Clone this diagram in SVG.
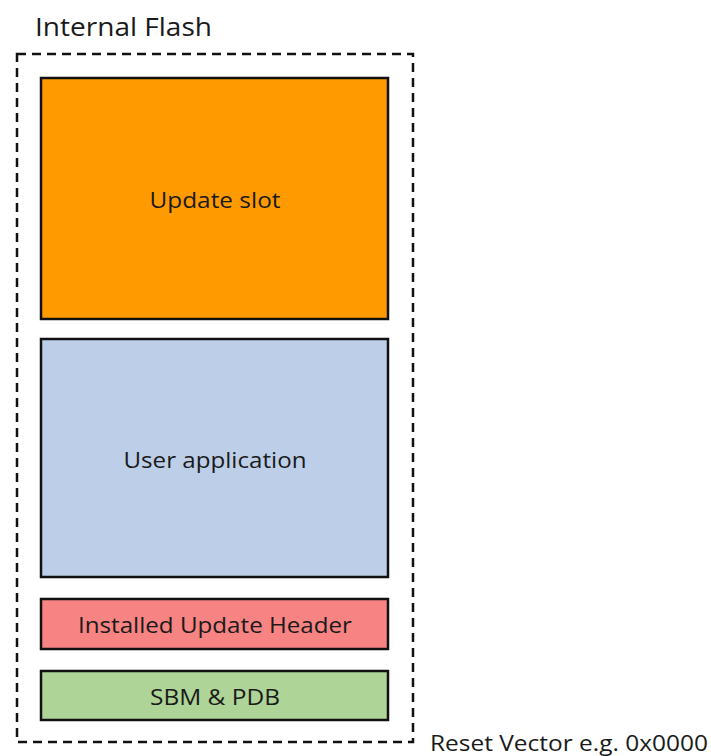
<svg xmlns="http://www.w3.org/2000/svg" width="711" height="756" viewBox="0 0 711 756">
  <style>
    .lbl { font-family: "Open Sans", "Liberation Sans", sans-serif; fill: #1a1a1a; }
    .region { stroke: #111; stroke-width: 2.5; }
    .mid { text-anchor: middle; font-size: 22.5px; }
  </style>
  <rect width="711" height="756" fill="#ffffff"/>

  <!-- flash boundary -->
  <g id="flash">
    <rect x="17" y="54" width="396" height="688" fill="none" stroke="#111" stroke-width="2.5" stroke-dasharray="9 6"/>
    <text class="lbl" x="35" y="36" font-size="25" textLength="177" lengthAdjust="spacingAndGlyphs">Internal Flash</text>
  </g>

  <g id="update-slot">
    <rect class="region" x="41" y="78" width="347" height="241" fill="#FF9A00"/>
    <text class="lbl mid" x="215" y="208" textLength="131" lengthAdjust="spacingAndGlyphs">Update slot</text>
  </g>

  <g id="user-app">
    <rect class="region" x="41" y="339" width="347" height="238" fill="#BDCFE8"/>
    <text class="lbl mid" x="215" y="468" textLength="183" lengthAdjust="spacingAndGlyphs">User application</text>
  </g>

  <g id="update-header">
    <rect class="region" x="41" y="599" width="347" height="50" fill="#F78383"/>
    <text class="lbl mid" x="215" y="633" textLength="274" lengthAdjust="spacingAndGlyphs">Installed Update Header</text>
  </g>

  <g id="sbm-pdb">
    <rect class="region" x="41" y="671" width="347" height="49" fill="#AED497"/>
    <text class="lbl mid" x="215" y="705" textLength="130" lengthAdjust="spacingAndGlyphs">SBM &amp; PDB</text>
  </g>

  <g id="connectors"></g>

  <text class="lbl" x="430" y="751" font-size="22" textLength="278" lengthAdjust="spacingAndGlyphs">Reset Vector e.g. 0x0000</text>
</svg>
